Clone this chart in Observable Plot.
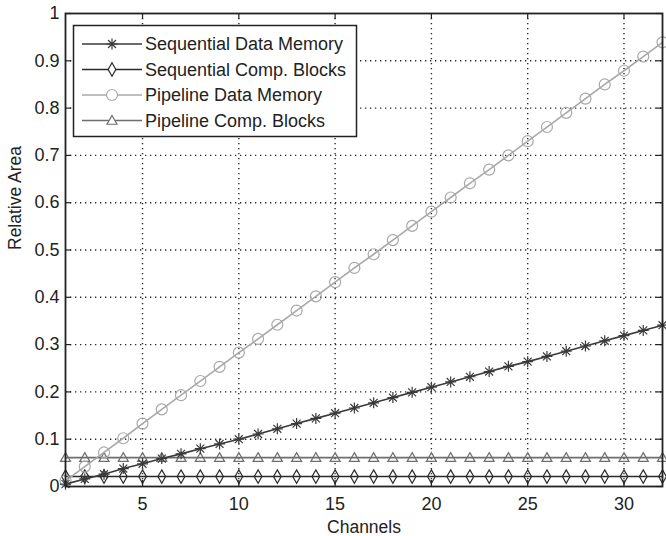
<!DOCTYPE html>
<html>
<head>
<meta charset="utf-8">
<script src="https://cdn.jsdelivr.net/npm/d3@7"></script>
<script src="https://cdn.jsdelivr.net/npm/@observablehq/plot@0.6"></script>
<style>
  html, body { margin: 0; padding: 0; background: #fff; }
  #wrap { position: relative; width: 666px; height: 536px; font-family: "Liberation Sans", Arial, sans-serif; }
  #legend { position: absolute; left: 0; top: 0; }
</style>
</head>
<body>
<div id="wrap"></div>
<script>
const channels = [1,2,3,4,5,6,7,8,9,10,11,12,13,14,15,16,17,18,19,20,21,22,23,24,25,26,27,28,29,30,31,32];
const seqDataMemory = [0.005,0.016,0.026,0.038,0.048,0.059,0.069,0.080,0.090,0.100,0.111,0.122,0.133,0.144,0.155,0.166,0.177,0.188,0.199,0.210,0.221,0.232,0.243,0.254,0.264,0.275,0.286,0.297,0.308,0.319,0.330,0.341];
const seqCompBlocks = [0.021,0.021,0.021,0.021,0.021,0.021,0.021,0.021,0.021,0.021,0.021,0.021,0.021,0.021,0.021,0.021,0.021,0.021,0.021,0.021,0.021,0.021,0.021,0.021,0.021,0.021,0.021,0.021,0.021,0.021,0.021,0.021];
const pipeDataMemory = [0.012,0.042,0.072,0.102,0.133,0.163,0.193,0.223,0.253,0.283,0.312,0.342,0.372,0.402,0.432,0.462,0.491,0.521,0.551,0.581,0.611,0.641,0.670,0.700,0.730,0.760,0.790,0.820,0.850,0.879,0.909,0.939];
const pipeCompBlocks = [0.061,0.061,0.061,0.061,0.061,0.061,0.061,0.061,0.061,0.061,0.061,0.061,0.061,0.061,0.061,0.061,0.061,0.061,0.061,0.061,0.061,0.061,0.061,0.061,0.061,0.061,0.061,0.061,0.061,0.061,0.061,0.061];
const seriesNames = ["Sequential Data Memory","Sequential Comp. Blocks","Pipeline Data Memory","Pipeline Comp. Blocks"];
const xTicks = [5,10,15,20,25,30];
const yTicks = [0,0.1,0.2,0.3,0.4,0.5,0.6,0.7,0.8,0.9,1];
const yTickLabels = ["0","0.1","0.2","0.3","0.4","0.5","0.6","0.7","0.8","0.9","1"];

// custom symbols
const asterisk8 = { draw(ctx, size) { const r = Math.sqrt(size / Math.PI); const d = r * 0.72;
  ctx.moveTo(-r, 0); ctx.lineTo(r, 0); ctx.moveTo(0, -r); ctx.lineTo(0, r);
  ctx.moveTo(-d, -d); ctx.lineTo(d, d); ctx.moveTo(-d, d); ctx.lineTo(d, -d); } };
const tallDiamond = { draw(ctx, size) { const r = Math.sqrt(size / Math.PI);
  ctx.moveTo(0, -1.4 * r); ctx.lineTo(0.8 * r, 0); ctx.lineTo(0, 1.4 * r); ctx.lineTo(-0.8 * r, 0); ctx.closePath(); } };
const triUp = { draw(ctx, size) { const r = Math.sqrt(size / Math.PI);
  ctx.moveTo(0, -r); ctx.lineTo(r, 0.75 * r); ctx.lineTo(-r, 0.75 * r); ctx.closePath(); } };
const circ = { draw(ctx, size) { const r = Math.sqrt(size / Math.PI); ctx.moveTo(r, 0); ctx.arc(0, 0, r, 0, 2 * Math.PI); } };

const series = [
  {name: seriesNames[3], values: pipeCompBlocks, color: "#6e6e6e", symbol: triUp, r: 5},
  {name: seriesNames[1], values: seqCompBlocks, color: "#2a2a2a", symbol: tallDiamond, r: 4.8},
  {name: seriesNames[2], values: pipeDataMemory, color: "#a8a8a8", symbol: circ, r: 5.5},
  {name: seriesNames[0], values: seqDataMemory, color: "#3a3a3a", symbol: asterisk8, r: 5.5}
];

const marks = [];
marks.push(Plot.ruleX(xTicks, {x: d => d, stroke: "#111", strokeOpacity: 0.9, strokeDasharray: "1.3,3.7", strokeWidth: 1.4}));
marks.push(Plot.ruleY(yTicks.slice(1, -1), {y: d => d, stroke: "#111", strokeOpacity: 0.9, strokeDasharray: "1.3,3.7", strokeWidth: 1.4}));
for (const s of series) {
  const rows = channels.map((c, i) => ({c, v: s.values[i]}));
  marks.push(Plot.line(rows, {x: "c", y: "v", stroke: s.color, strokeWidth: 1.6}));
  marks.push(Plot.dot(rows, {x: "c", y: "v", stroke: s.color, fill: "none", symbol: s.symbol, r: s.r, strokeWidth: 1.2}));
}
// inward ticks
marks.push(Plot.tickX(xTicks, {x: d => d, insetTop: 467, stroke: "#222", strokeWidth: 1.2}));
marks.push(Plot.tickX(xTicks, {x: d => d, insetBottom: 467, stroke: "#222", strokeWidth: 1.2}));
marks.push(Plot.tickY(yTicks, {y: d => d, insetRight: 591, stroke: "#222", strokeWidth: 1.2}));
marks.push(Plot.tickY(yTicks, {y: d => d, insetLeft: 591, stroke: "#222", strokeWidth: 1.2}));
marks.push(Plot.frame({stroke: "#222", strokeWidth: 1.8}));
marks.push(Plot.axisX(xTicks, {tickSize: 0, tickPadding: 11, fontSize: 18, fill: "#222", label: null}));
marks.push(Plot.axisY(yTicks, {tickSize: 0, tickPadding: 6, fontSize: 18, fill: "#222", label: null,
  tickFormat: (d) => yTickLabels[yTicks.indexOf(d)]}));
marks.push(Plot.text(["Channels"], {text: d => d, frameAnchor: "bottom", dy: 46, fontSize: 17.5, fill: "#222"}));
marks.push(Plot.text(["Relative Area"], {text: d => d, frameAnchor: "left", dx: -50, rotate: -90, fontSize: 17.5, fill: "#222"}));

const chart = Plot.plot({
  width: 666, height: 536,
  marginLeft: 65, marginRight: 4, marginTop: 13, marginBottom: 50,
  x: {domain: [1, 32], axis: null},
  y: {domain: [0, 1], axis: null},
  style: {fontFamily: "'Liberation Sans', Arial, sans-serif", fontSize: "18px", background: "white", color: "#222"},
  marks
});
const wrap = document.getElementById("wrap");
wrap.appendChild(chart);

// legend overlay
const legendOrder = [series[3], series[1], series[2], series[0]];
const lg = d3.select(wrap).append("svg").attr("id", "legend").attr("width", 666).attr("height", 536)
  .style("font-family", "'Liberation Sans', Arial, sans-serif");
lg.append("rect").attr("x", 73.5).attr("y", 25.5).attr("width", 283).attr("height", 111)
  .attr("fill", "white").attr("stroke", "#222").attr("stroke-width", 1.5);
legendOrder.forEach((s, i) => {
  const y = 44 + i * 25.5;
  const g = lg.append("g");
  g.append("line").attr("x1", 82).attr("x2", 142).attr("y1", y).attr("y2", y).attr("stroke", s.color).attr("stroke-width", 1.6);
  g.append("path").attr("d", d3.symbol(s.symbol, Math.PI * s.r * s.r)()).attr("transform", `translate(112,${y})`)
    .attr("fill", "white").attr("stroke", s.color).attr("stroke-width", 1.2);
  g.append("text").attr("x", 145).attr("y", y).attr("dy", "0.35em").attr("font-size", 18).attr("fill", "#222").text(s.name);
});
</script>
</body>
</html>
